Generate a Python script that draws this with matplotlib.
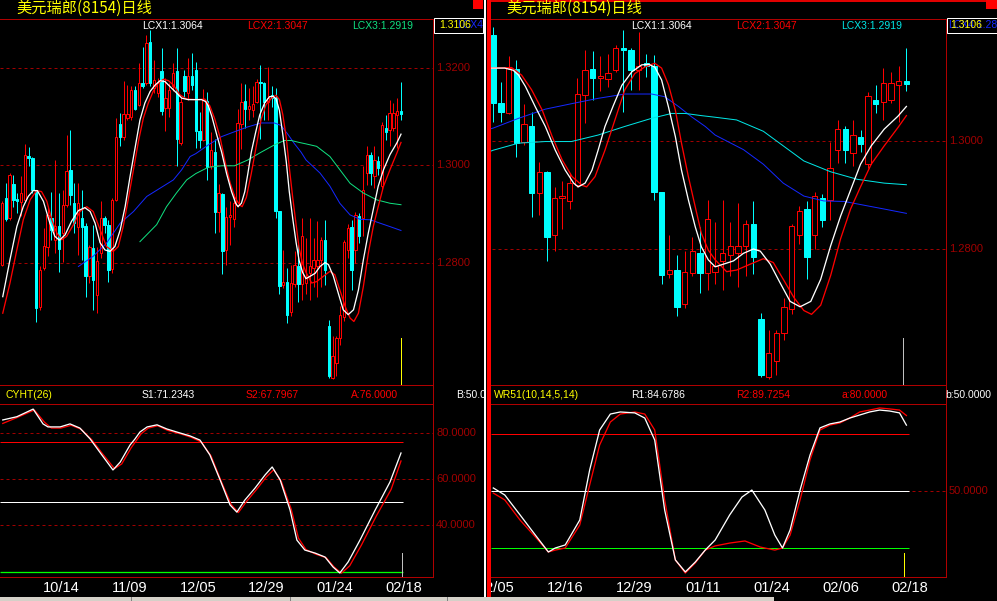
import matplotlib
matplotlib.use('Agg')
import matplotlib.pyplot as plt
from matplotlib.patches import Rectangle
from matplotlib.transforms import blended_transform_factory, Bbox
from matplotlib import font_manager

W, H = 997, 601

# ---------------- data (daily candles, bar 0 .. 105) ----------------
opens = [1.2796, 1.2932, 1.2891, 1.2962, 1.2931, 1.2924, 1.2929, 1.3020, 1.3015, 1.2948,
         1.2709, 1.2789, 1.2833, 1.2891, 1.2847, 1.2876, 1.2861, 1.2919, 1.2991, 1.2922,
         1.2874, 1.2891, 1.2876, 1.2772, 1.2830, 1.2734, 1.2819, 1.2891, 1.2878, 1.2787,
         1.2929, 1.3085, 1.3058, 1.3097, 1.3099, 1.3155, 1.3124, 1.3170, 1.3170, 1.3254,
         1.3159, 1.3148, 1.3193, 1.3117, 1.3117, 1.3162, 1.3193, 1.3046, 1.3184, 1.3148,
         1.3183, 1.3196, 1.3070, 1.3052, 1.3133, 1.2999, 1.3028, 1.2904, 1.2942, 1.2825,
         1.2894, 1.2889, 1.2919, 1.3085, 1.3133, 1.3116, 1.3114, 1.3131, 1.3172, 1.3169,
         1.3131, 1.3144, 1.3138, 1.2906, 1.2753, 1.2761, 1.2699, 1.2756, 1.2792, 1.2755,
         1.2758, 1.2778, 1.2789, 1.2792, 1.2806, 1.2847, 1.2670, 1.2563, 1.2593, 1.2645,
         1.2689, 1.2826, 1.2874, 1.2826, 1.2895, 1.2891, 1.2984, 1.3022, 1.2977, 1.3008,
         1.2957, 1.3076, 1.3073, 1.3076, 1.3104, 1.3111]
highs = [1.2926, 1.2963, 1.2984, 1.2980, 1.2943, 1.2977, 1.3044, 1.3037, 1.3018, 1.2950,
         1.2792, 1.2871, 1.2915, 1.2946, 1.3011, 1.2943, 1.2950, 1.3063, 1.3073, 1.2963,
         1.2963, 1.2950, 1.2881, 1.2837, 1.2878, 1.2833, 1.2926, 1.2895, 1.2888, 1.2932,
         1.3097, 1.3107, 1.3174, 1.3165, 1.3163, 1.3162, 1.3210, 1.3244, 1.3268, 1.3278,
         1.3217, 1.3179, 1.3241, 1.3179, 1.3169, 1.3210, 1.3241, 1.3141, 1.3196, 1.3220,
         1.3230, 1.3212, 1.3110, 1.3157, 1.3150, 1.3068, 1.3054, 1.2962, 1.2944, 1.2915,
         1.2926, 1.2940, 1.3116, 1.3169, 1.3167, 1.3158, 1.3162, 1.3178, 1.3206, 1.3172,
         1.3202, 1.3162, 1.3159, 1.2906, 1.2826, 1.2789, 1.2796, 1.2823, 1.2841, 1.2891,
         1.2850, 1.2891, 1.2850, 1.2885, 1.2853, 1.2888, 1.2682, 1.2650, 1.2650, 1.2710,
         1.2847, 1.2880, 1.2888, 1.2905, 1.2902, 1.2998, 1.3039, 1.3028, 1.3039, 1.3020,
         1.3090, 1.3103, 1.3135, 1.3128, 1.3138, 1.3172]
lows = [1.2792, 1.2885, 1.2888, 1.2915, 1.2902, 1.2895, 1.2926, 1.2998, 1.2943, 1.2677,
        1.2703, 1.2785, 1.2813, 1.2847, 1.2819, 1.2780, 1.2802, 1.2915, 1.2919, 1.2861,
        1.2816, 1.2806, 1.2730, 1.2758, 1.2703, 1.2696, 1.2809, 1.2861, 1.2761, 1.2778,
        1.2926, 1.3039, 1.3052, 1.3093, 1.3093, 1.3114, 1.3121, 1.3159, 1.3165, 1.3162,
        1.3148, 1.3141, 1.3104, 1.3070, 1.3100, 1.3152, 1.2998, 1.3042, 1.3141, 1.3135,
        1.3155, 1.3036, 1.3036, 1.3050, 1.2970, 1.2993, 1.2860, 1.2863, 1.2777, 1.2796,
        1.2837, 1.2874, 1.2915, 1.3034, 1.3076, 1.3093, 1.3100, 1.3128, 1.3054, 1.3094,
        1.3094, 1.3119, 1.2891, 1.2736, 1.2747, 1.2676, 1.2690, 1.2750, 1.2718, 1.2724,
        1.2735, 1.2724, 1.2750, 1.2730, 1.2750, 1.2754, 1.2563, 1.2560, 1.2566, 1.2631,
        1.2680, 1.2810, 1.2744, 1.2800, 1.2840, 1.2854, 1.2960, 1.2960, 1.2953, 1.2980,
        1.2950, 1.3052, 1.3039, 1.3070, 1.3035, 1.3093]
closes = [1.2922, 1.2889, 1.2980, 1.2929, 1.2926, 1.2943, 1.3022, 1.3015, 1.2950, 1.2706,
          1.2785, 1.2835, 1.2898, 1.2867, 1.2876, 1.2828, 1.2919, 1.2989, 1.2939, 1.2881,
          1.2922, 1.2874, 1.2773, 1.2832, 1.2765, 1.2804, 1.2891, 1.2878, 1.2784, 1.2929,
          1.3059, 1.3058, 1.3105, 1.3105, 1.3155, 1.3115, 1.3170, 1.3162, 1.3252, 1.3169,
          1.3176, 1.3170, 1.3111, 1.3138, 1.3155, 1.3189, 1.3054, 1.3131, 1.3152, 1.3183,
          1.3165, 1.3070, 1.3053, 1.3135, 1.2996, 1.3031, 1.2904, 1.2943, 1.2823, 1.2894,
          1.2898, 1.2922, 1.3087, 1.3131, 1.3116, 1.3121, 1.3125, 1.3172, 1.3169, 1.3131,
          1.3138, 1.3139, 1.2906, 1.2752, 1.2761, 1.2693, 1.2758, 1.2796, 1.2755, 1.2855,
          1.2768, 1.2792, 1.2806, 1.2806, 1.2847, 1.2785, 1.2566, 1.2607, 1.2645, 1.2693,
          1.2843, 1.2871, 1.2785, 1.2898, 1.2854, 1.2950, 1.3022, 1.2984, 1.3011, 1.2994,
          1.3083, 1.3069, 1.3107, 1.3107, 1.3111, 1.3106]

# moving-average lines (bar position, value)
lcx1_x = [0.2, 2.1, 3.9, 5.6, 6.9, 8.2, 9.3, 10.9, 12.6, 13.9, 15.1, 16.6, 18.3, 20.1, 21.8, 23.2,
          24.5, 25.8, 27.1, 28.4, 29.7, 31.1, 32.4, 33.7, 35.0, 36.3, 37.6, 39.0, 40.3, 41.6, 42.9,
          44.2, 45.5, 47.3, 49.0, 51.0, 52.5, 53.6, 54.3, 55.2, 56.5, 57.8, 59.1, 60.4, 61.5, 62.1,
          63.0, 63.9, 64.7, 65.6, 66.7, 67.8, 69.1, 70.4, 71.3, 72.1, 73.0, 73.9, 74.8, 75.6, 76.5,
          77.4, 78.2, 79.1, 80.0, 81.1, 82.4, 83.7, 85.0, 85.9, 87.2, 88.5, 89.8, 91.1, 92.5, 93.8,
          95.1, 96.4, 97.7, 99.0, 100.4, 102.1, 103.9, 105.0]
lcx1_v = [1.2730, 1.2806, 1.2874, 1.2915, 1.2936, 1.2948, 1.2948, 1.2926, 1.2881, 1.2854, 1.2846,
          1.2857, 1.2885, 1.2907, 1.2913, 1.2905, 1.2881, 1.2841, 1.2826, 1.2823, 1.2833, 1.2867,
          1.2915, 1.2977, 1.3035, 1.3093, 1.3128, 1.3152, 1.3165, 1.3174, 1.3172, 1.3162, 1.3152,
          1.3138, 1.3135, 1.3135, 1.3135, 1.3131, 1.3122, 1.3101, 1.3063, 1.3027, 1.2983, 1.2946,
          1.2922, 1.2915, 1.2922, 1.2946, 1.2983, 1.3027, 1.3066, 1.3103, 1.3128, 1.3141, 1.3142,
          1.3137, 1.3113, 1.3063, 1.3008, 1.2946, 1.2891, 1.2841, 1.2804, 1.2780, 1.2767, 1.2772,
          1.2778, 1.2792, 1.2800, 1.2796, 1.2772, 1.2737, 1.2703, 1.2693, 1.2703, 1.2744, 1.2806,
          1.2861, 1.2909, 1.2957, 1.2991, 1.3022, 1.3046, 1.3064]
lcx2_x = [0.2, 2.1, 3.9, 5.6, 7.4, 9.1, 10.4, 11.8, 13.1, 14.4, 15.7, 17.0, 18.8, 20.5, 22.3, 24.0,
          25.8, 27.5, 29.3, 30.6, 31.9, 33.2, 34.6, 35.9, 37.2, 38.5, 39.8, 41.1, 42.5, 43.8, 45.1,
          46.8, 48.6, 51.0, 53.4, 54.7, 56.0, 57.4, 58.7, 60.0, 61.3, 62.6, 63.2, 64.3, 65.6, 66.9,
          68.2, 69.5, 70.8, 72.1, 73.0, 73.9, 74.8, 75.6, 76.5, 77.4, 78.2, 79.1, 80.0, 81.5, 82.8,
          84.6, 86.3, 87.6, 88.9, 90.3, 91.6, 92.6, 93.8, 95.1, 96.4, 97.7, 99.0, 100.4, 102.1,
          103.9, 105.0]
lcx2_v = [1.2696, 1.2758, 1.2826, 1.2888, 1.2929, 1.2948, 1.2946, 1.2926, 1.2888, 1.2861, 1.2847,
          1.2854, 1.2878, 1.2905, 1.2915, 1.2905, 1.2868, 1.2833, 1.2823, 1.2833, 1.2874, 1.2929,
          1.2991, 1.3049, 1.3097, 1.3128, 1.3152, 1.3169, 1.3177, 1.3174, 1.3165, 1.3145, 1.3136,
          1.3135, 1.3136, 1.3122, 1.3095, 1.3057, 1.3008, 1.2965, 1.2934, 1.2918, 1.2915, 1.2934,
          1.2983, 1.3039, 1.3095, 1.3125, 1.3137, 1.3144, 1.3135, 1.3104, 1.3057, 1.2996, 1.2934,
          1.2878, 1.2829, 1.2798, 1.2780, 1.2758, 1.2761, 1.2772, 1.2782, 1.2775, 1.2744, 1.2710,
          1.2686, 1.2679, 1.2696, 1.2751, 1.2819, 1.2874, 1.2915, 1.2957, 1.2991, 1.3025, 1.3047]
lcx3_x = [36.3, 40.7, 43.3, 45.9, 48.6, 51.0, 54.3, 57.8, 61.2, 64.7, 68.2, 71.7, 74.3, 76.1, 78.2,
          80.0, 82.8, 86.3, 88.9, 91.6, 95.1, 98.6, 102.1, 105.0]
lcx3_v = [1.2843, 1.2878, 1.2915, 1.2943, 1.2970, 1.2983, 1.2996, 1.2999, 1.2999, 1.3011, 1.3027,
          1.3042, 1.3051, 1.3051, 1.3047, 1.3044, 1.3039, 1.3018, 1.2991, 1.2963, 1.2943, 1.2929,
          1.2922, 1.2919]
lcx4_x = [20.1, 24.0, 27.5, 31.1, 34.6, 38.1, 41.6, 45.1, 47.3, 49.5, 51.0, 54.3, 57.8, 61.2, 64.7,
          68.2, 71.7, 73.4, 75.2, 76.9, 78.7, 80.0, 83.7, 86.3, 88.9, 91.6, 94.2, 96.9, 99.5, 102.1,
          105.0]
lcx4_v = [1.2792, 1.2813, 1.2840, 1.2881, 1.2905, 1.2936, 1.2953, 1.2970, 1.2991, 1.3018, 1.3024,
          1.3042, 1.3059, 1.3069, 1.3079, 1.3087, 1.3087, 1.3082, 1.3064, 1.3045, 1.3027, 1.3011,
          1.2984, 1.2957, 1.2922, 1.2898, 1.2889, 1.2888, 1.2881, 1.2874, 1.2866]

# CYHT(26) indicator (left lower pane)
s1_x = [0.2, 3.9, 8.2, 10.8, 12.1, 15.3, 17.9, 20.5, 23.2, 26.0, 29.2, 31.1, 33.7, 35.0, 36.3, 38.2,
        40.8, 43.4, 46.8, 49.5, 52.1, 54.7, 57.4, 60.0, 61.8, 63.9, 66.6, 69.2, 71.1, 73.2, 75.8,
        77.6, 79.7, 82.4, 85.0, 87.1, 88.9, 91.1, 94.2, 98.2, 102.1, 105.0]
s1_v = [85.5, 86.9, 90.2, 83.8, 82.5, 82.5, 83.8, 82.0, 77.3, 71.0, 63.9, 67.3, 74.7, 77.3, 80.3,
        82.5, 83.4, 81.6, 79.9, 78.6, 76.8, 70.4, 59.6, 48.8, 45.7, 50.9, 56.1, 61.7, 65.2, 59.6,
        46.6, 33.6, 29.3, 28.0, 26.3, 22.0, 19.4, 24.2, 33.6, 46.6, 58.7, 71.2343]
s2_x = [0.2, 3.9, 8.5, 11.2, 13.0, 15.5, 18.2, 20.8, 23.6, 26.4, 29.6, 31.5, 34.0, 36.6, 38.5, 41.0,
        43.6, 47.0, 49.8, 52.4, 55.0, 57.7, 60.3, 62.2, 64.2, 67.0, 69.6, 71.5, 73.5, 76.1, 78.0,
        80.0, 82.6, 85.3, 87.4, 89.3, 91.5, 94.6, 98.5, 102.4, 105.0]
s2_v = [84.0, 86.5, 89.8, 84.5, 82.0, 82.0, 83.2, 81.5, 77.0, 71.0, 64.5, 66.5, 73.5, 79.5, 82.0,
        83.0, 81.0, 79.5, 78.0, 76.0, 70.0, 59.0, 49.0, 45.5, 50.0, 55.5, 61.0, 64.0, 59.0, 47.0,
        34.5, 29.5, 27.5, 26.0, 22.0, 19.3, 22.5, 31.5, 44.0, 55.5, 67.7967]
cyht_a, cyht_b, cyht_low = 76.0, 50.0, 20.0

# WR51(10,14,5,14) indicator (right lower pane)
r1_x = [51.0, 52.5, 54.5, 56.5, 58.2, 59.1, 60.4, 62.3, 63.6, 64.9, 66.3, 67.6, 69.5, 70.8, 72.1,
        73.4, 74.8, 76.1, 77.4, 78.7, 80.0, 81.9, 83.5, 84.8, 86.5, 87.8, 88.8, 89.8, 91.1, 92.4,
        93.7, 95.0, 96.3, 97.6, 98.9, 100.2, 101.5, 102.8, 104.1, 105.0]
r1_v = [51.6, 47.9, 37.4, 26.8, 17.9, 20.0, 21.6, 34.7, 61.1, 82.1, 90.5, 91.6, 91.1, 88.4, 76.8,
        40.0, 13.7, 7.4, 12.6, 18.9, 24.2, 37.4, 46.8, 50.5, 40.0, 26.8, 20.0, 29.5, 50.5, 68.9,
        83.2, 85.3, 86.3, 88.4, 90.0, 91.6, 92.6, 92.1, 91.1, 84.6786]
r2_x = [51.0, 52.5, 54.5, 56.5, 58.2, 59.1, 60.4, 62.3, 63.6, 64.9, 66.3, 67.6, 69.5, 70.8, 72.1,
        73.4, 74.8, 76.1, 77.4, 78.7, 80.0, 81.9, 83.9, 85.9, 87.8, 88.8, 89.8, 91.1, 92.4, 93.7,
        95.0, 96.3, 97.6, 98.9, 100.2, 101.5, 102.8, 104.1, 105.0]
r2_v = [48.9, 45.3, 34.7, 25.8, 17.9, 18.9, 20.0, 32.1, 53.2, 74.2, 86.3, 90.5, 91.6, 90.5, 82.1,
        45.3, 13.7, 6.8, 12.1, 18.9, 21.1, 22.6, 23.7, 20.5, 18.9, 20.0, 26.8, 45.3, 66.3, 82.1,
        84.7, 85.8, 88.4, 91.6, 92.6, 93.7, 93.2, 92.6, 89.7254]
wr_a, wr_b, wr_low = 80.0, 50.0, 20.0

right_first_bar = 51
left_price_ticks = [1.3200, 1.3000, 1.2800]
right_price_ticks = [1.3000, 1.2800]
left_ind_ticks = [80.0, 60.0, 40.0]
right_ind_ticks = [50.0]
left_tick_bars = [15, 33, 51, 69, 87, 105]
left_tick_labels = ['10/14', '11/09', '12/05', '12/29', '01/24', '02/18']
right_tick_bars = [51, 60, 69, 78, 87, 96, 105]
right_tick_labels = ['12/05', '12/16', '12/29', '01/11', '01/24', '02/06', '02/18']

title = '美元瑞郎(8154)日线'
last_price = '1.3106'
ma_labels = ['LCX1:1.3064', 'LCX2:1.3047', 'LCX3:1.2919']
cyht_labels = ['CYHT(26)', 'S1:71.2343', 'S2:67.7967', 'A:76.0000', 'B:50.0000']
wr_labels = ['WR51(10,14,5,14)', 'R1:84.6786', 'R2:89.7254', 'a:80.0000', 'b:50.0000']

# ---------------- styling ----------------
BG = '#000000'
AX = '#b00000'
GRID = '#a00000'
RED = '#ff0000'
CYAN = '#00ffff'
YELLOW = '#ffff00'
WHITE = '#ffffff'
GREEN_MA = '#10e080'
CYAN_MA = '#00e6e6'
BLUE_MA = '#1428ff'
GREEN = '#00ff00'
PX = 0.72
DASH = (0, (3, 3))

avail = {f.name for f in font_manager.fontManager.ttflist}
NUMF = 'Liberation Sans' if 'Liberation Sans' in avail else 'DejaVu Sans'
CJK = ['Noto Sans CJK SC', 'DejaVu Sans']

fig = plt.figure(figsize=(W / 100, H / 100), dpi=100)
fig.patch.set_facecolor(BG)


def px_axes(x0, y0, x1, y1, z=1):
    ax = fig.add_axes([x0 / W, 1 - y1 / H, (x1 - x0) / W, (y1 - y0) / H])
    ax.set_facecolor('none')
    ax.set_axis_off()
    ax.set_zorder(z)
    return ax


def pix_axes(x0, y0, x1, y1, z=1):
    ax = px_axes(x0, y0, x1, y1, z)
    ax.set_xlim(x0, x1)
    ax.set_ylim(y1, y0)
    return ax


def draw_candles(ax, first, width):
    for k in range(first, len(closes)):
        o, h, l, c = opens[k], highs[k], lows[k], closes[k]
        up = c >= o
        col = RED if up else CYAN
        ax.vlines(k, l, h, colors=col, lw=PX, zorder=2)
        lo, hi = min(o, c), max(o, c)
        hgt = max(hi - lo, 0.00004)
        ax.bar(k, hgt, width=width, bottom=lo, facecolor=(BG if up else col),
               edgecolor=col, lw=PX, zorder=3)


# pixel mapping of the panes
L_X0, L_X1 = 0, 433
R_X0, R_X1 = 490, 946
MAIN_Y0, MAIN_Y1 = 19, 385
IND_Y0, IND_Y1 = 404, 577
L_STEP, L_OFF = 3.8, 2.0        # px per bar, px of bar 0
R_STEP, R_OFF = 7.65, 493.3     # px per bar, px of bar 51


def lx(px):
    return (px - L_OFF) / L_STEP


def rx(px):
    return right_first_bar + (px - R_OFF) / R_STEP


def side_label(ax, v, fmt, width_px):
    ax.text(1.0 + 3 / width_px, v, fmt.format(v),
            transform=blended_transform_factory(ax.transAxes, ax.transData),
            color=GRID, fontsize=8, family=NUMF, va='center', ha='left', clip_on=False)


# ---------------- left main pane ----------------
axL = px_axes(L_X0, MAIN_Y0, L_X1, MAIN_Y1)
axL.set_xlim(lx(L_X0), lx(L_X1))
axL.set_ylim(1.3 - (MAIN_Y1 - 165.3) / 4865, 1.3 + (165.3 - MAIN_Y0) / 4865)
for p in left_price_ticks:
    axL.axhline(p, color=GRID, lw=PX, ls=DASH, zorder=1)
    side_label(axL, p, '{:.4f}', 433)
draw_candles(axL, 0, 0.62)
axL.plot(lcx4_x, lcx4_v, color=BLUE_MA, lw=PX, zorder=4)
axL.plot(lcx3_x, lcx3_v, color=GREEN_MA, lw=PX, zorder=4)
axL.plot(lcx2_x, lcx2_v, color=RED, lw=PX * 1.3, zorder=5)
axL.plot(lcx1_x, lcx1_v, color=WHITE, lw=PX * 1.3, zorder=6)

# ---------------- right main pane ----------------
axR = px_axes(R_X0, MAIN_Y0, R_X1, MAIN_Y1)
axR.set_xlim(rx(R_X0), rx(R_X1))
axR.set_ylim(1.3 - (MAIN_Y1 - 141) / 5400, 1.3 + (141 - MAIN_Y0) / 5400)
for p in right_price_ticks:
    axR.axhline(p, xmin=2 / 456, color=GRID, lw=PX, ls=DASH, zorder=1)
    side_label(axR, p, '{:.4f}', 456)
draw_candles(axR, right_first_bar, 0.7)
axR.plot(lcx4_x, lcx4_v, color=BLUE_MA, lw=PX, zorder=4)
axR.plot(lcx3_x, lcx3_v, color=CYAN_MA, lw=PX, zorder=4)
axR.plot(lcx2_x, lcx2_v, color=RED, lw=PX * 1.3, zorder=5)
axR.plot(lcx1_x, lcx1_v, color=WHITE, lw=PX * 1.3, zorder=6)

# ---------------- left indicator pane ----------------
axLI = px_axes(L_X0, IND_Y0, L_X1, IND_Y1)
axLI.set_xlim(lx(L_X0), lx(L_X1))
axLI.set_ylim(80 - (IND_Y1 - 432.7) / 2.315, 80 + (432.7 - IND_Y0) / 2.315)
for v in left_ind_ticks:
    axLI.axhline(v, color=GRID, lw=PX, ls=DASH, zorder=1)
    side_label(axLI, v, '{:.4f}', 433)
nbar = len(closes)
axLI.hlines([cyht_a], -0.5, nbar - 0.5, color=RED, lw=PX, zorder=2)
axLI.hlines([cyht_b], -0.5, nbar - 0.5, color=WHITE, lw=PX, zorder=2)
axLI.hlines([cyht_low], -0.5, nbar - 0.5, color=GREEN, lw=PX * 1.3, zorder=2)
axLI.plot(s2_x, s2_v, color=RED, lw=PX * 1.3, zorder=3)
axLI.plot(s1_x, s1_v, color=WHITE, lw=PX * 1.3, zorder=4)

# ---------------- right indicator pane ----------------
axRI = px_axes(R_X0, IND_Y0, R_X1, IND_Y1)
axRI.set_xlim(rx(R_X0), rx(R_X1))
axRI.set_ylim(50 - (IND_Y1 - 491) / 1.9, 50 + (491 - IND_Y0) / 1.9)
for v in right_ind_ticks:
    axRI.axhline(v, xmin=2 / 456, color=GRID, lw=PX, ls=DASH, zorder=1)
    side_label(axRI, v, '{:.4f}', 456)
axRI.hlines([wr_a], right_first_bar - 0.3, nbar - 0.6, color=RED, lw=PX, zorder=2)
axRI.hlines([wr_b], right_first_bar - 0.3, nbar - 0.6, color=WHITE, lw=PX, zorder=2)
axRI.hlines([wr_low], right_first_bar - 0.3, nbar - 0.6, color=GREEN, lw=PX, zorder=2)
axRI.plot(r2_x, r2_v, color=RED, lw=PX * 1.3, zorder=3)
axRI.plot(r1_x, r1_v, color=WHITE, lw=PX * 1.3, zorder=4)

# ---------------- date strips ----------------
date_kw = dict(color=WHITE, va='center', ha='center', clip_on=True, family=NUMF, fontsize=10.5)
stL = px_axes(0, 578, 484, 598)
stL.set_xlim(lx(0), lx(484))
stL.set_ylim(598, 578)
for b, s in zip(left_tick_bars, left_tick_labels):
    stL.text(b + 0.6, 588, s, **date_kw)
stR = px_axes(491, 578, 997, 598)
stR.set_xlim(rx(491), rx(997))
stR.set_ylim(598, 578)
for b, s in zip(right_tick_bars, right_tick_labels):
    stR.text(b + 0.4, 588, s, **date_kw)

# ---------------- frame / decorations (pixel overlay) ----------------
ov = pix_axes(0, 0, W, H, z=10)


def rect(x0, y0, x1, y1, color, ax=ov):
    ax.add_patch(Rectangle((x0, y0), x1 - x0, y1 - y0, facecolor=color, edgecolor='none'))


# left frame
rect(0, 19, 433, 20, AX)
rect(433, 19, 434, 578, AX)
rect(0, 385, 433, 386, AX)
rect(0, 404, 433, 405, AX)
rect(0, 577, 434, 578, AX)
# right frame
rect(490, 0, 997, 2, '#e00000')
rect(490, 19, 946, 20, AX)
rect(946, 19, 947, 578, AX)
rect(490, 385, 946, 386, AX)
rect(490, 404, 946, 405, AX)
rect(490, 577, 947, 578, AX)
# separator between the two windows
rect(484, 0, 486, H, WHITE)
rect(487, 0, 491, H, '#ff0000')
# window buttons
rect(473, 0, 483, 9, '#ff0000')
rect(986, 0, 997, 9, '#ff0000')
# current-bar markers
rect(401, 338, 402, 385, YELLOW)
rect(402, 553, 403, 577, '#c0c0c0')
rect(903, 338, 904, 385, '#c0c0c0')
rect(904, 553, 905, 577, YELLOW)
# bottom status strip
rect(0, 597, 774, H, '#d4d0c8')
for sx in [131, 290, 447]:
    rect(sx, 597, sx + 1, H, '#808080')

# last-price boxes
for bx0, bx1 in [(433, 483), (946, 997)]:
    ov.add_patch(Rectangle((bx0 + 0.5, 17.5), bx1 - bx0 - 1, 15.5, facecolor=BG, edgecolor=WHITE, lw=PX))
ov.text(457, 25.5, 'LCX4', color=BLUE_MA, fontsize=7.5, family=NUMF, va='center', ha='left')
ov.text(439, 25.5, last_price, color=YELLOW, fontsize=7.5, family=NUMF, va='center', ha='left')
tb2 = ov.text(948, 25.5, 'LCX4:1.2866', color=BLUE_MA, fontsize=7.5, family=NUMF, va='center', ha='left')
tb2.set_clip_box(ov.transData.transform_bbox(Bbox.from_extents(946, 17, 997, 33)))
ov.text(950, 25.5, last_price, color=YELLOW, fontsize=7.5, family=NUMF, va='center', ha='left')

# titles
ov.text(16, 8, title, color=YELLOW, fontsize=11, family=CJK, va='center', ha='left')
ov.text(506, 8, title, color=YELLOW, fontsize=11, family=CJK, va='center', ha='left')

# moving average legends
for x0, cols in [(142, [WHITE, RED, GREEN_MA]), (631, [WHITE, RED, CYAN_MA])]:
    for k, (s, c) in enumerate(zip(ma_labels, cols)):
        ov.text(x0 + 105 * k, 26, s, color=c, fontsize=7.5, family=NUMF, va='center', ha='left')

# indicator legends
hl = pix_axes(0, 386, 484, 404, z=11)
for x0, s, c in zip([5, 142, 246, 351, 456], cyht_labels, [YELLOW, WHITE, RED, RED, WHITE]):
    hl.text(x0, 395, s, color=c, fontsize=7.5, family=NUMF, va='center', ha='left', clip_on=True)
hr = pix_axes(491, 386, 997, 404, z=11)
for x0, s, c in zip([494, 631, 736, 841, 945], wr_labels, [YELLOW, WHITE, RED, RED, WHITE]):
    hr.text(x0, 395, s, color=c, fontsize=7.5, family=NUMF, va='center', ha='left', clip_on=True)

fig.savefig('out.png', dpi=100, facecolor=BG)
